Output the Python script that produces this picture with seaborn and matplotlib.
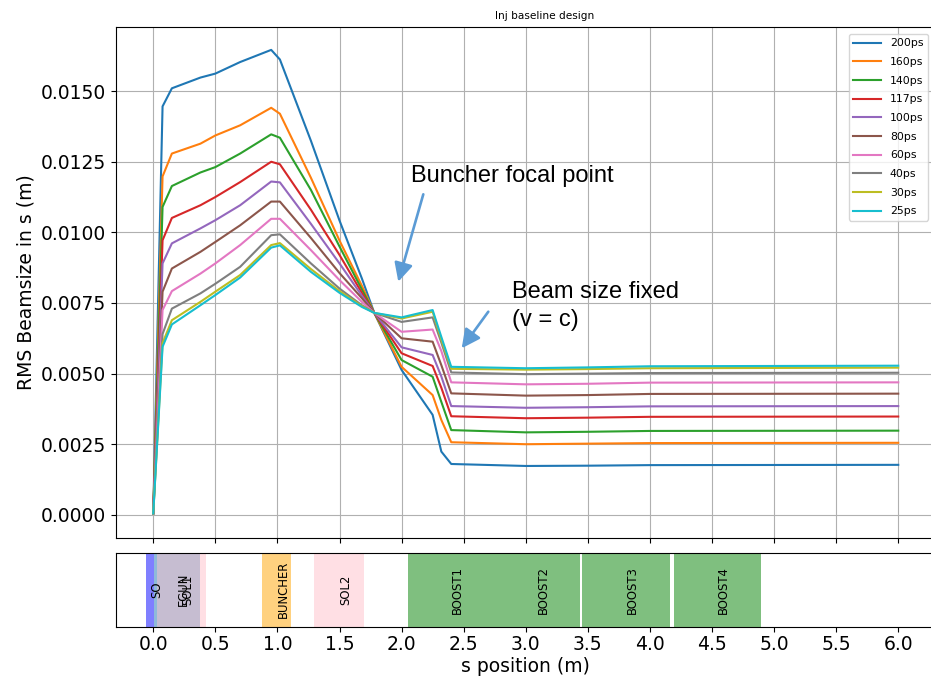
import numpy as np
import pandas as pd
import matplotlib
matplotlib.use("Agg")
import matplotlib.pyplot as plt
from matplotlib.patches import FancyArrowPatch
from matplotlib.ticker import FormatStrFormatter
import seaborn as sns

# Longitudinal position along the injector (m)
s_pos = [0.0, 0.075, 0.15, 0.38, 0.5, 0.7, 0.95, 1.02, 1.27, 1.5, 1.68, 1.78,
         2.0, 2.25, 2.32, 2.40, 3.0, 3.5, 4.0, 6.0]

# Bunch lengths (legend order)
pulse_labels = ["200ps", "160ps", "140ps", "117ps", "100ps",
                "80ps", "60ps", "40ps", "30ps", "25ps"]

# RMS beam size (m) for each bunch length
rms_200ps = [0.00005, 0.01446, 0.01510, 0.01548, 0.01562, 0.01603, 0.01646, 0.01612, 0.01324, 0.01042,
             0.00837, 0.00715, 0.00513, 0.00354, 0.00224, 0.00180, 0.00173, 0.00174, 0.00176, 0.00177]
rms_160ps = [0.00005, 0.01198, 0.01279, 0.01314, 0.01343, 0.01379, 0.01441, 0.01420, 0.01193, 0.00971,
             0.00811, 0.00715, 0.00524, 0.00424, 0.00336, 0.00257, 0.00250, 0.00252, 0.00254, 0.00255]
rms_140ps = [0.00005, 0.01090, 0.01164, 0.01212, 0.01231, 0.01279, 0.01347, 0.01335, 0.01150, 0.00950,
             0.00798, 0.00715, 0.00548, 0.00489, 0.00400, 0.00300, 0.00292, 0.00294, 0.00297, 0.00298]
rms_117ps = [0.00005, 0.00972, 0.01051, 0.01096, 0.01125, 0.01178, 0.01250, 0.01241, 0.01080, 0.00920,
             0.00786, 0.00715, 0.00572, 0.00527, 0.00450, 0.00349, 0.00342, 0.00344, 0.00347, 0.00348]
rms_100ps = [0.00005, 0.00890, 0.00961, 0.01014, 0.01043, 0.01096, 0.01180, 0.01177, 0.01030, 0.00890,
             0.00776, 0.00715, 0.00593, 0.00566, 0.00490, 0.00385, 0.00379, 0.00381, 0.00384, 0.00385]
rms_80ps = [0.00005, 0.00790, 0.00872, 0.00931, 0.00966, 0.01025, 0.01109, 0.01109, 0.00980, 0.00856,
            0.00767, 0.00715, 0.00625, 0.00613, 0.00530, 0.00430, 0.00422, 0.00424, 0.00428, 0.00429]
rms_60ps = [0.00005, 0.00725, 0.00792, 0.00854, 0.00890, 0.00955, 0.01048, 0.01048, 0.00937, 0.00831,
            0.00754, 0.00715, 0.00648, 0.00656, 0.00580, 0.00469, 0.00462, 0.00464, 0.00468, 0.00469]
rms_40ps = [0.00005, 0.00640, 0.00730, 0.00784, 0.00818, 0.00878, 0.00990, 0.00993, 0.00890, 0.00801,
            0.00742, 0.00715, 0.00683, 0.00699, 0.00610, 0.00504, 0.00498, 0.00500, 0.00502, 0.00503]
rms_30ps = [0.00005, 0.00608, 0.00689, 0.00754, 0.00790, 0.00849, 0.00955, 0.00962, 0.00870, 0.00792,
            0.00739, 0.00715, 0.00695, 0.00719, 0.00620, 0.00517, 0.00514, 0.00516, 0.00519, 0.00521]
rms_25ps = [0.00005, 0.00595, 0.00674, 0.00742, 0.00778, 0.00840, 0.00946, 0.00954, 0.00860, 0.00786,
            0.00736, 0.00715, 0.00699, 0.00725, 0.00630, 0.00524, 0.00519, 0.00522, 0.00526, 0.00528]

rms_series = [rms_200ps, rms_160ps, rms_140ps, rms_117ps, rms_100ps,
              rms_80ps, rms_60ps, rms_40ps, rms_30ps, rms_25ps]

# Beamline elements: name, start, end, colour
element_names = ["SO", "EGUN", "SOL1", "BUNCHER", "SOL2", "BOOST1", "BOOST2", "BOOST3", "BOOST4"]
element_start = [-0.055, 0.003, 0.03, 0.875, 1.296, 2.048, 2.745, 3.457, 4.19]
element_end = [0.003, 0.378, 0.427, 1.109, 1.699, 2.745, 3.44, 4.163, 4.893]
element_color = ["blue", "C0", "pink", "orange", "pink", "green", "green", "green", "green"]

xtick_values = np.arange(0.0, 6.01, 0.5)

# Long-form table for seaborn
frames = []
for lab, vals in zip(pulse_labels, rms_series):
    frames.append(pd.DataFrame({"s": s_pos, "rms": vals, "pulse": lab}))
df = pd.concat(frames, ignore_index=True)

plt.rcParams["font.family"] = ["DejaVu Sans"]

W, H = 931, 679
fig = plt.figure(figsize=(W / 100, H / 100), dpi=100)
left_px, right_px = 116, 935.5
ax = fig.add_axes([left_px / W, 1 - 538 / H, (right_px - left_px) / W, (538 - 27) / H])
ax2 = fig.add_axes([left_px / W, 1 - 626.7 / H, (right_px - left_px) / W, 74 / H], sharex=ax)

sns.lineplot(data=df, x="s", y="rms", hue="pulse", hue_order=pulse_labels,
             palette="tab10", estimator=None, sort=False, linewidth=1.5, ax=ax)

ax.set_xlim(-0.3, 6.3)
ax.set_ylim(-0.00082, 0.01727)
ax.yaxis.set_major_formatter(FormatStrFormatter("%.4f"))
ax.set_yticks(np.arange(0.0, 0.0151, 0.0025))
ax.grid(True, color="#b0b0b0", linewidth=0.8)
ax.set_axisbelow(True)
ax.tick_params(axis="y", labelsize=13.5)
ax.tick_params(axis="x", labelbottom=False)
ax.set_xlabel("")
ax.set_ylabel("RMS Beamsize in s (m)", fontsize=13.5)
ax.set_title("Inj baseline design", fontsize=7.6, x=(545 - left_px) / (right_px - left_px))

leg = ax.legend(loc="upper right", bbox_to_anchor=(927.7 / W, 1 - 34 / H),
                bbox_transform=fig.transFigure, borderaxespad=0,
                fontsize=7.8, labelspacing=0.8, handlelength=2.6)

# Beamline layout strip
for name, a, b, c in zip(element_names, element_start, element_end, element_color):
    ax2.axvspan(a, b, color=c, alpha=0.5, linewidth=0)
    ax2.text((a + b) / 2, 0.5, name, rotation=90, ha="left", va="center", fontsize=8.4)
ax2.set_ylim(0, 1)
ax2.set_yticks([])
ax2.set_xticks(xtick_values)
ax2.tick_params(axis="x", labelsize=13.5, pad=2.5)
ax2.set_xlabel("s position (m)", fontsize=13.5, labelpad=2)

# Callouts
callout_color = "#5b9bd5"
fig.text(411 / W, 1 - 181.7 / H, "Buncher focal point", fontsize=17,
         family="Liberation Sans", va="baseline", ha="left")
fig.text(512 / W, 1 - 298 / H, "Beam size fixed", fontsize=17,
         family="Liberation Sans", va="baseline", ha="left")
fig.text(512 / W, 1 - 326.4 / H, "(v = c)", fontsize=17,
         family="Liberation Sans", va="baseline", ha="left")

arrow_kw = dict(arrowstyle="-|>", color=callout_color, lw=1.9,
                mutation_scale=28, shrinkA=0, shrinkB=0)
fig.add_artist(FancyArrowPatch(
    (423.3 / W, 1 - 194.3 / H), (398.3 / W, 1 - 281.7 / H),
    transform=fig.transFigure, **arrow_kw))
fig.add_artist(FancyArrowPatch(
    (488.3 / W, 1 - 311.7 / H), (461.7 / W, 1 - 348.3 / H),
    transform=fig.transFigure, **arrow_kw))

fig.savefig("out.png", dpi=100)
